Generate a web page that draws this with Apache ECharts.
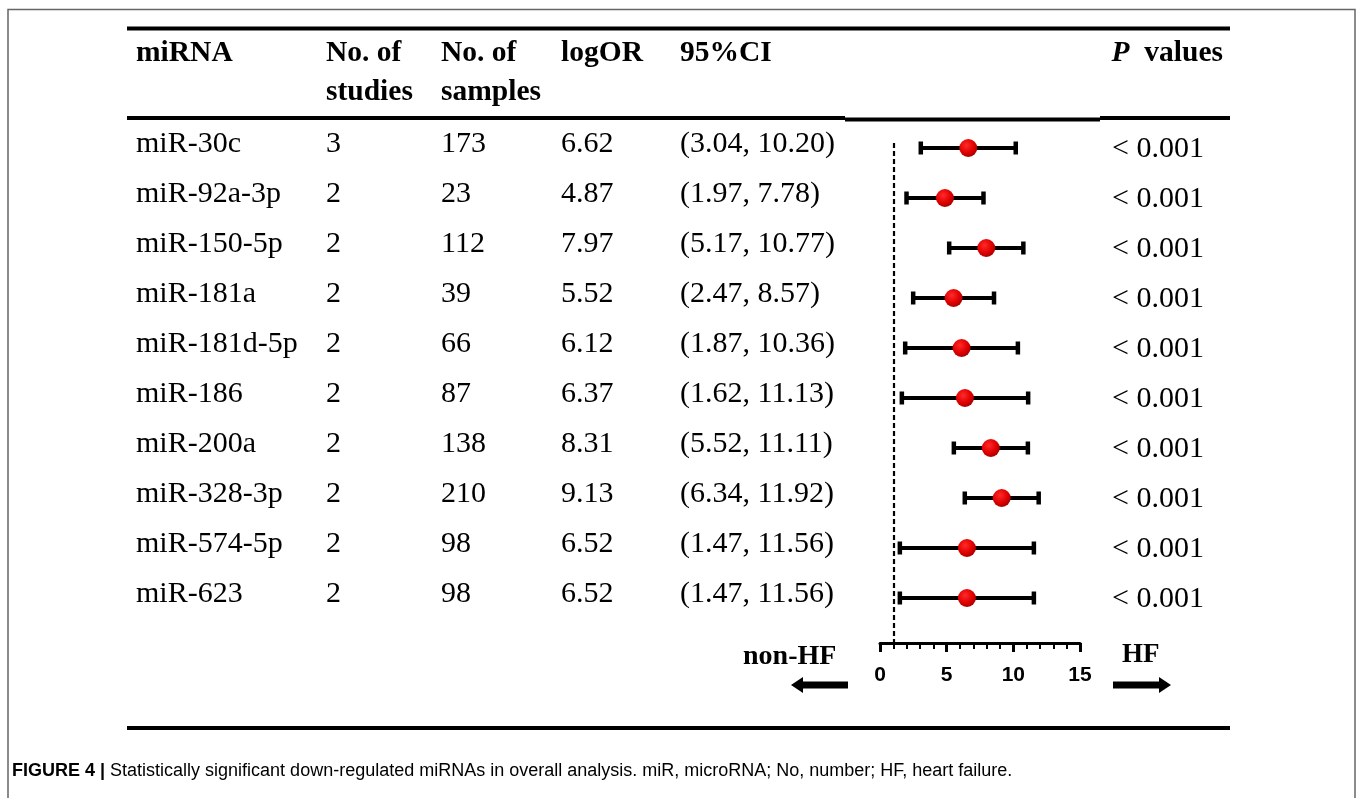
<!DOCTYPE html>
<html>
<head>
<meta charset="utf-8">
<script src="https://cdn.jsdelivr.net/npm/echarts@6/dist/echarts.min.js"></script>
<style>
html, body { margin: 0; padding: 0; background: #fff; }
#forest { width: 1357px; height: 798px; }
</style>
</head>
<body>
<div id="forest"></div>
<script>
// table columns
var mirnas = ['miR-30c', 'miR-92a-3p', 'miR-150-5p', 'miR-181a', 'miR-181d-5p', 'miR-186', 'miR-200a', 'miR-328-3p', 'miR-574-5p', 'miR-623']
var studies = [3, 2, 2, 2, 2, 2, 2, 2, 2, 2]
var samples = [173, 23, 112, 39, 66, 87, 138, 210, 98, 98]
var logOR = [6.62, 4.87, 7.97, 5.52, 6.12, 6.37, 8.31, 9.13, 6.52, 6.52]
var ciLow = [3.04, 1.97, 5.17, 2.47, 1.87, 1.62, 5.52, 6.34, 1.47, 1.47]
var ciHigh = [10.20, 7.78, 10.77, 8.57, 10.36, 11.13, 11.11, 11.92, 11.56, 11.56]
var pValues = ['< 0.001', '< 0.001', '< 0.001', '< 0.001', '< 0.001', '< 0.001', '< 0.001', '< 0.001', '< 0.001', '< 0.001']
var refLine = 1

var serif = '"Liberation Serif", "Times New Roman", serif'
var sans = '"Liberation Sans", Arial, sans-serif'

var chart = echarts.init(document.getElementById('forest'))

var option = {
  backgroundColor: '#fff',
  animation: false,
  grid: { left: 880, top: 143, width: 200, height: 500 },
  xAxis: {
    type: 'value',
    position: 'bottom',
    min: 0,
    max: 15,
    interval: 5,
    axisLine: { show: true, onZero: false, lineStyle: { color: '#000', width: 3 } },
    axisTick: { show: true, length: 9, lineStyle: { color: '#000', width: 3 } },
    minorTick: { show: true, splitNumber: 5, length: 6, lineStyle: { color: '#000', width: 2 } },
    splitLine: { show: false },
    axisLabel: { margin: 22, color: '#000', fontSize: 21, fontWeight: 'bold', fontFamily: sans }
  },
  yAxis: { type: 'value', min: -0.1, max: 9.9, inverse: true, show: false },
  series: [
    {
      // 95% CI whiskers
      type: 'custom',
      z: 2,
      data: ciLow.map(function (l, i) { return [l, ciHigh[i], i] }),
      encode: { x: [0, 1], y: 2 },
      renderItem: function (params, api) {
        var a = api.coord([api.value(0), api.value(2)])
        var b = api.coord([api.value(1), api.value(2)])
        return {
          type: 'group',
          children: [
            { type: 'line', shape: { x1: a[0], y1: a[1], x2: b[0], y2: b[1] }, style: { stroke: '#000', lineWidth: 4 } },
            { type: 'rect', shape: { x: a[0] - 2, y: a[1] - 6.5, width: 4.5, height: 13 }, style: { fill: '#000' } },
            { type: 'rect', shape: { x: b[0] - 2.5, y: b[1] - 6.5, width: 4.5, height: 13 }, style: { fill: '#000' } }
          ]
        }
      }
    },
    {
      type: 'scatter',
      z: 3,
      symbol: 'circle',
      symbolSize: 18,
      data: logOR.map(function (v, i) { return [v, i] }),
      itemStyle: {
        opacity: 1,
        color: {
          type: 'radial', x: 0.4, y: 0.35, r: 0.7,
          colorStops: [
            { offset: 0, color: '#ff2a2a' },
            { offset: 0.6, color: '#e00000' },
            { offset: 1, color: '#a00000' }
          ]
        }
      },
      markLine: {
        silent: true,
        symbol: 'none',
        label: { show: false },
        lineStyle: { color: '#000', type: [5, 3], width: 2.2 },
        data: [{ xAxis: refLine }]
      }
    }
  ]
}
chart.setOption(option)

// fixed layout pieces: rules, headers, arrows, caption, frame
var g = []
function rule(x1, x2, y, w) {
  g.push({ type: 'line', shape: { x1: x1, y1: y, x2: x2, y2: y }, style: { stroke: '#000', lineWidth: w } })
}
function txt(s, x, y, opt) {
  opt = opt || {}
  g.push({
    type: 'text',
    style: {
      text: s, x: x, y: y,
      fill: '#000',
      fontFamily: opt.family || serif,
      fontSize: opt.size || 30,
      fontWeight: opt.weight || 'normal',
      textAlign: opt.align || 'left',
      textVerticalAlign: 'middle',
      rich: opt.rich
    }
  })
}

g.push({ type: 'rect', shape: { x: 8, y: 9.5, width: 1347, height: 800 }, style: { fill: 'none', stroke: '#666', lineWidth: 1.5 } })

rule(127, 1230, 28.5, 4)
rule(127, 845, 118, 4)
rule(845, 1100, 119.5, 4)
rule(1100, 1230, 118, 4)
rule(127, 1230, 728, 4)

var hdr = { weight: 'bold', size: 29.5 }
txt('miRNA', 136, 53, hdr)
txt('No. of', 326, 53, hdr)
txt('studies', 326, 92, hdr)
txt('No. of', 441, 53, hdr)
txt('samples', 441, 92, hdr)
txt('logOR', 561, 53, hdr)
txt('95%CI', 680, 53, hdr)
txt('{i|P}{b|  values}', 1223, 53, {
  align: 'right',
  rich: {
    i: { fontFamily: serif, fontSize: 29.5, fontWeight: 'bold', fontStyle: 'italic' },
    b: { fontFamily: serif, fontSize: 29.5, fontWeight: 'bold' }
  }
})

// table rows, placed at the same y as the plotted rows
mirnas.forEach(function (name, i) {
  var y = chart.convertToPixel({ gridIndex: 0 }, [0, i])[1]
  txt(name, 136, y - 4)
  txt(String(studies[i]), 326, y - 4)
  txt(String(samples[i]), 441, y - 4)
  txt(logOR[i].toFixed(2), 561, y - 4)
  txt('(' + ciLow[i].toFixed(2) + ', ' + ciHigh[i].toFixed(2) + ')', 680, y - 4)
  txt(pValues[i], 1112, y + 1)
})

txt('non-HF', 743, 657, { weight: 'bold', size: 28 })
txt('HF', 1122, 655, { weight: 'bold', size: 27 })

// arrows
g.push({ type: 'polygon', shape: { points: [[848, 681.5], [803, 681.5], [803, 677], [791, 685], [803, 693], [803, 688.5], [848, 688.5]] }, style: { fill: '#000' } })
g.push({ type: 'polygon', shape: { points: [[1113, 681.5], [1159, 681.5], [1159, 677], [1171, 685], [1159, 693], [1159, 688.5], [1113, 688.5]] }, style: { fill: '#000' } })

txt('{b|FIGURE 4 |} Statistically significant down-regulated miRNAs in overall analysis. miR, microRNA; No, number; HF, heart failure.', 12, 771, {
  family: sans,
  size: 18,
  rich: {
    b: { fontFamily: sans, fontSize: 18, fontWeight: 'bold', fill: '#000' }
  }
})

chart.setOption({ graphic: g })
</script>
</body>
</html>
